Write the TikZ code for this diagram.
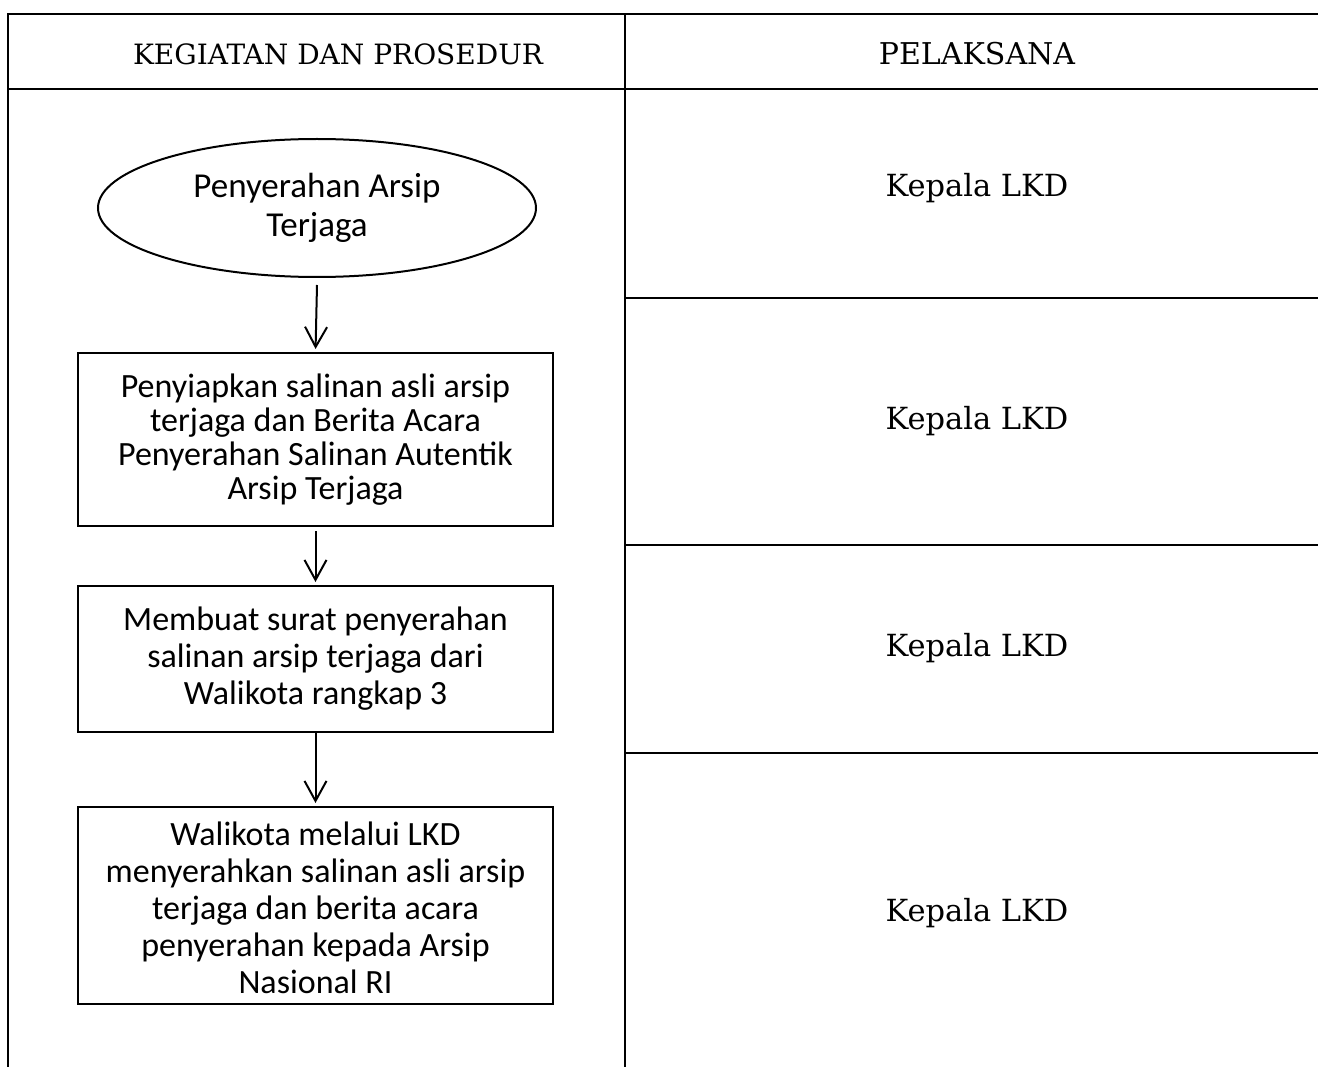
\documentclass[tikz,border=0pt]{standalone}
\usepackage{fontspec}
\setmainfont{DejaVu Serif}
\newfontfamily\boxfont{Carlito}
\usetikzlibrary{shapes.geometric,arrows.meta}
\begin{document}
\begin{tikzpicture}[x=1pt,y=-1pt,
  rule/.style={line width=2pt},
  headtext/.style={font=\fontsize{28}{32}\selectfont,inner sep=0pt},
  celltext/.style={font=\fontsize{30.5}{34}\selectfont,inner sep=0pt},
  flowbox/.style={draw,line width=2pt,minimum width=475pt,align=center,
    font=\boxfont\fontsize{34}{37}\selectfont,inner sep=0pt},
  startnode/.style={draw,ellipse,line width=2pt,minimum width=438pt,minimum height=138pt,
    align=center,font=\boxfont\fontsize{35}{39}\selectfont,inner sep=0pt},
  flowarrow/.style={line width=2pt,shorten >=3pt,
    -{Straight Barb[length=20pt,width=22pt,line width=2pt]}}]

\useasboundingbox (0,0) rectangle (1318,1067);

% table frame
\draw[rule] (1318,14) -- (8,14) -- (8,1067);
\draw[rule] (625,14) -- (625,1067);
\draw[rule] (8,89) -- (1318,89);
\draw[rule] (625,298) -- (1318,298);
\draw[rule] (625,545) -- (1318,545);
\draw[rule] (625,753) -- (1318,753);

% headings
\node[headtext] (hkeg) at (338,54) {KEGIATAN DAN PROSEDUR};
\node[headtext,font=\fontsize{30}{34}\selectfont] (hpel) at (977,54) {PELAKSANA};

% executors
\node[celltext] (p1) at (977,188) {Kepala LKD};
\node[celltext] (p2) at (977,421) {Kepala LKD};
\node[celltext] (p3) at (977,648) {Kepala LKD};
\node[celltext] (p4) at (977,913) {Kepala LKD};

% flow
\node[startnode] (start) at (317,208) {Penyerahan Arsip\\Terjaga};
\node[flowbox,minimum height=173pt,font=\boxfont\fontsize{34}{34}\selectfont] (b1) at (315.5,439.5)
  {Penyiapkan salinan asli arsip\\terjaga dan Berita Acara\\Penyerahan Salinan Autentik\\Arsip Terjaga};
\node[flowbox,minimum height=146pt] (b2) at (315.5,659)
  {Membuat surat penyerahan\\salinan arsip terjaga dari\\Walikota rangkap 3};
\node[flowbox,minimum height=197pt] (b3) at (315.5,905.5) {};
\node[inner sep=0pt,align=center,font=\boxfont\fontsize{34}{37}\selectfont] (b3text) at ([yshift=-2pt]b3.center)
  {Walikota melalui LKD\\menyerahkan salinan asli arsip\\terjaga dan berita acara\\penyerahan kepada Arsip\\Nasional RI};

\draw[flowarrow] ([yshift=-7pt]start.south) -- (b1.north);
\draw[flowarrow] ([yshift=-4pt]b1.south) -- (b2.north);
\draw[flowarrow] (b2.south) -- (b3.north);
\end{tikzpicture}
\end{document}
